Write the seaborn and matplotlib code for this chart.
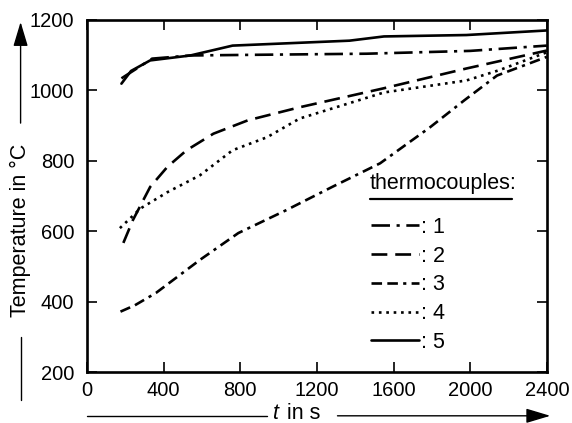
import numpy as np
import pandas as pd
import seaborn as sns
import matplotlib.pyplot as plt
from matplotlib.lines import Line2D

# values (t in s, temperature in degC)
t1 = [180, 340, 540, 900, 1460, 2000, 2400]
T1 = [1034, 1090, 1099, 1101, 1104, 1112, 1127]

t2 = [190, 240, 330, 420, 520, 660, 840, 1110, 1550, 1980, 2400]
T2 = [567, 632, 726, 783, 830, 877, 915, 952, 1006, 1062, 1113]

t3 = [175, 250, 360, 590, 790, 1040, 1280, 1530, 1790, 1970, 2140, 2400]
T3 = [372, 390, 425, 519, 595, 660, 726, 793, 895, 972, 1042, 1095]

t4 = [172, 280, 420, 590, 760, 940, 1110, 1550, 1980, 2150, 2400]
T4 = [609, 665, 711, 759, 830, 867, 920, 994, 1028, 1057, 1108]

t5 = [180, 230, 330, 540, 760, 1370, 1550, 1980, 2400]
T5 = [1019, 1055, 1085, 1099, 1127, 1141, 1153, 1157, 1170]

x_ticks = [0, 400, 800, 1200, 1600, 2000, 2400]
y_ticks = [200, 400, 600, 800, 1000, 1200]
labels = ['1', '2', '3', '4', '5']

frames = []
for name, t, T in zip(labels, [t1, t2, t3, t4, t5], [T1, T2, T3, T4, T5]):
    frames.append(pd.DataFrame({'t': t, 'T': T, 'tc': name}))
df = pd.concat(frames, ignore_index=True)

sns.set_style('ticks')
plt.rcParams['font.family'] = ['Liberation Sans', 'DejaVu Sans']
for key in ['text.color', 'axes.labelcolor', 'xtick.color', 'ytick.color',
            'axes.edgecolor']:
    plt.rcParams[key] = 'black'

dashes = {
    '1': (7, 2.5, 1.2, 2.5),
    '2': (6, 3),
    '3': (4, 2, 4, 2, 1.2, 2),
    '4': (1, 1.8),
    '5': '',
}

fig = plt.figure(figsize=(5.72, 4.23), dpi=100)
ax = fig.add_axes([0.152, 0.12, 0.804, 0.833])

sns.lineplot(data=df, x='t', y='T', style='tc', dashes=dashes,
             color='black', linewidth=1.9, sort=False, legend=False, ax=ax)

ax.set_xlim(0, 2400)
ax.set_ylim(200, 1200)
ax.set_xticks(x_ticks)
ax.set_yticks(y_ticks)
ax.tick_params(direction='in', length=7, width=1.2, top=True, right=True,
               labelsize=14.5)
ax.tick_params(axis='x', pad=6)
ax.tick_params(axis='y', pad=9)
ax.set_xlabel('')
ax.set_ylabel('')
for s in ax.spines.values():
    s.set_linewidth(1.9)

# legend, hand-built like the original
handles = []
for k in labels:
    if dashes[k]:
        handles.append(Line2D([], [], color='black', linewidth=1.9,
                              linestyle=(0, dashes[k])))
    else:
        handles.append(Line2D([], [], color='black', linewidth=1.9))
leg = fig.legend(handles, [': ' + k for k in labels],
                 loc='upper left', bbox_to_anchor=(0.649, 0.487),
                 frameon=False, fontsize=15.5, handlelength=2.2,
                 handletextpad=0.1, labelspacing=0.36, borderpad=0,
                 borderaxespad=0)
fig.text(0.647, 0.567, 'thermocouples:', fontsize=15.5, va='center')
fig.add_artist(Line2D([0.647, 0.895], [0.53, 0.53], color='black',
                      linewidth=1.6))

# axis labels with arrows
fig.text(0.481, 0.022, 't', fontsize=15.5, style='italic', ha='center',
         va='center')
fig.text(0.502, 0.022, 'in s', fontsize=15.5, ha='left', va='center')
fig.add_artist(Line2D([0.152, 0.467], [0.017, 0.017], color='black',
                      linewidth=1.0))
ax.annotate('', xy=(0.962, 0.017), xytext=(0.59, 0.017),
            xycoords='figure fraction',
            arrowprops=dict(arrowstyle='-|>,head_length=1.5,head_width=0.45',
                            lw=1.0, color='black', shrinkA=0, shrinkB=0))

fig.text(0.036, 0.456, 'Temperature in °C', fontsize=15.5, rotation=90,
         ha='center', va='center')
fig.add_artist(Line2D([0.036, 0.036], [0.054, 0.203], color='black',
                      linewidth=1.0))
ax.annotate('', xy=(0.036, 0.948), xytext=(0.036, 0.709),
            xycoords='figure fraction',
            arrowprops=dict(arrowstyle='-|>,head_length=1.5,head_width=0.45',
                            lw=1.0, color='black', shrinkA=0, shrinkB=0))

fig.savefig('out.png', dpi=100)
